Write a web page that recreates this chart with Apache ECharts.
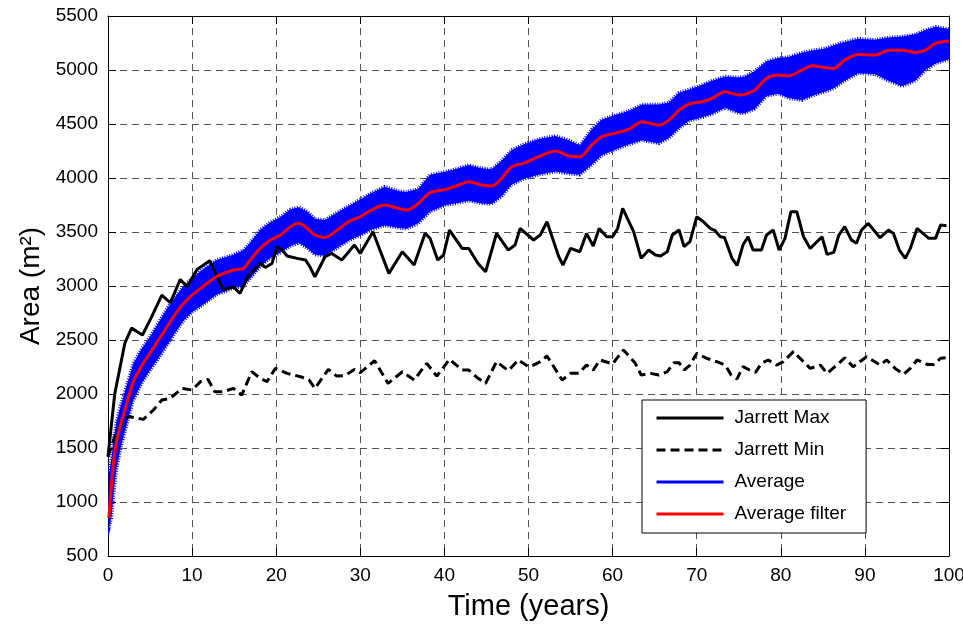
<!DOCTYPE html>
<html>
<head>
<meta charset="utf-8">
<script src="https://cdn.jsdelivr.net/npm/echarts@6.0.0/dist/echarts.min.js"></script>
<style>
  html, body { margin: 0; padding: 0; background: #fff; }
  #chart { width: 963px; height: 627px; }
</style>
</head>
<body>
<div id="chart"></div>
<script>
// Jarrett Max [time, area]
var jarrettMax = [
  [0, 1420], [0.8, 2000], [2.0, 2470], [2.8, 2610], [4.1, 2546], [5.2, 2716], [6.4, 2916], [7.4, 2845],
  [8.6, 3061], [9.4, 2993], [10.6, 3154], [12.1, 3234], [13.7, 2963], [14.9, 2993], [15.7, 2932], [16.6, 3086],
  [18.1, 3209], [18.7, 3172], [19.5, 3209], [20.1, 3364], [20.7, 3333], [21.3, 3277], [22.5, 3256], [23.5, 3240],
  [24.0, 3178], [24.6, 3086], [25.8, 3271], [26.6, 3302], [27.8, 3240], [29.3, 3379], [30.0, 3302], [31.5, 3503],
  [33.4, 3117], [35.0, 3317], [36.4, 3194], [37.7, 3487], [38.3, 3441], [39.2, 3240], [39.9, 3287], [40.6, 3518],
  [42.1, 3348], [42.9, 3348], [44.0, 3209], [44.9, 3132], [46.2, 3487], [47.6, 3333], [48.4, 3379], [49.0, 3533],
  [50.6, 3426], [51.4, 3472], [52.2, 3595], [53.6, 3271], [54.1, 3194], [55.0, 3348], [56.1, 3317], [56.9, 3487],
  [57.7, 3370], [58.4, 3533], [59.3, 3456], [60.0, 3456], [60.6, 3533], [61.2, 3719], [62.5, 3503], [63.4, 3256],
  [64.3, 3333], [65.1, 3287], [65.7, 3277], [66.5, 3317], [67.1, 3472], [67.9, 3518], [68.5, 3364], [69.2, 3410],
  [70.0, 3641], [70.8, 3595], [71.6, 3533], [72.2, 3512], [72.8, 3456], [73.3, 3450], [74.2, 3256], [74.8, 3190],
  [75.5, 3379], [76.1, 3456], [76.7, 3333], [77.7, 3333], [78.3, 3472], [79.1, 3518], [79.8, 3333], [80.5, 3441],
  [81.2, 3688], [81.9, 3688], [82.7, 3456], [83.5, 3348], [84.9, 3456], [85.5, 3293], [86.3, 3311], [86.9, 3472],
  [87.6, 3549], [88.4, 3426], [89.0, 3395], [89.6, 3518], [90.4, 3580], [91.8, 3447], [92.8, 3518], [93.4, 3487],
  [94.1, 3333], [94.8, 3256], [95.4, 3348], [96.2, 3533], [97.6, 3441], [98.4, 3441], [99.0, 3564], [99.7, 3558]
];

// Jarrett Min [time, area]
var jarrettMin = [
  [0, 1420], [1.0, 1650], [2.2, 1780], [2.6, 1790], [4.2, 1765], [5.4, 1852], [6.4, 1944], [7.4, 1960],
  [8.8, 2052], [10.0, 2037], [11.0, 2114], [11.9, 2135], [12.7, 2021], [13.7, 2021], [14.9, 2052], [15.9, 1990],
  [17.1, 2207], [18.1, 2145], [18.9, 2114], [19.9, 2237], [21.3, 2191], [22.9, 2160], [23.9, 2130], [24.6, 2052],
  [26.2, 2228], [27.2, 2166], [28.2, 2170], [29.3, 2228], [30.0, 2197], [31.7, 2308], [33.3, 2098], [35.0, 2206],
  [36.4, 2129], [37.9, 2284], [39.1, 2166], [40.6, 2321], [42.1, 2222], [42.9, 2222], [44.0, 2145], [44.9, 2098],
  [46.2, 2299], [47.6, 2216], [48.8, 2315], [50.0, 2253], [50.6, 2268], [51.4, 2299], [52.2, 2352], [54.0, 2129],
  [55.0, 2191], [56.0, 2191], [56.9, 2268], [57.7, 2222], [58.5, 2315], [60.0, 2278], [60.5, 2330], [61.3, 2407],
  [62.7, 2284], [63.4, 2176], [64.5, 2191], [65.5, 2176], [66.5, 2207], [67.3, 2290], [67.9, 2290], [68.5, 2222],
  [69.2, 2268], [70.0, 2376], [71.2, 2330], [72.4, 2299], [73.4, 2268], [74.1, 2176], [74.8, 2140], [75.5, 2253],
  [76.3, 2222], [77.0, 2200], [77.7, 2284], [78.5, 2315], [79.5, 2268], [80.3, 2300], [81.5, 2392], [82.7, 2299],
  [83.5, 2237], [84.7, 2268], [85.5, 2191], [86.9, 2284], [87.6, 2336], [88.6, 2253], [89.4, 2299], [90.2, 2345],
  [91.8, 2268], [92.6, 2315], [93.6, 2237], [94.6, 2182], [95.4, 2237], [96.2, 2315], [97.4, 2274], [98.2, 2274],
  [99.0, 2330], [99.6, 2336]
];

// time samples for the average band and the filtered average
var avgT = [
  0.1, 0.4, 0.7, 1.0, 1.5, 2.0, 3.0, 4.0, 5.0, 6.0, 7.0, 8.0, 9.0, 10.0, 11.0, 12.9, 14.9, 16.1, 16.9,
  18.1, 19.3, 20.5, 21.7, 22.7, 23.7, 24.6, 25.8, 27.0, 28.6, 30.0, 31.3, 32.9, 34.5, 35.5, 36.9, 38.3,
  40.2, 41.7, 42.9, 44.4, 45.6, 46.8, 48.0, 49.4, 51.2, 53.2, 54.8, 56.1, 57.5, 58.7, 60.2, 61.9, 63.5,
  65.5, 66.7, 67.9, 69.1, 70.6, 71.8, 73.4, 75.0, 75.7, 76.9, 78.3, 79.7, 80.9, 82.5, 83.7, 85.3, 86.3,
  87.6, 89.2, 91.2, 92.8, 94.4, 96.0, 97.2, 98.4, 100
];
// Average filter
var avgFilter = [
  850, 1150, 1400, 1550, 1720, 1850, 2110, 2260, 2380, 2500, 2620, 2740, 2840, 2916, 2978, 3086, 3148, 3163, 3240,
  3348, 3425, 3472, 3549, 3580, 3533, 3472, 3450, 3503, 3595, 3641, 3703, 3750, 3719, 3703, 3765, 3864,
  3895, 3935, 3966, 3935, 3925, 3996, 4104, 4135, 4197, 4249, 4203, 4197, 4305, 4382, 4413, 4450, 4521,
  4490, 4536, 4629, 4685, 4706, 4737, 4799, 4768, 4774, 4814, 4922, 4953, 4947, 4999, 5039, 5021, 5015,
  5092, 5144, 5138, 5184, 5184, 5163, 5184, 5246, 5268
];
// Average: upper and lower edge of the blue band
var avgHigh = [
  1250, 1400, 1600, 1740, 1890, 2020, 2280, 2420, 2530, 2660, 2790, 2900, 3000, 3070, 3140, 3240, 3290, 3330, 3400,
  3520, 3590, 3640, 3710, 3730, 3690, 3620, 3610, 3670, 3740, 3800, 3860, 3920, 3880, 3870, 3900, 4030,
  4060, 4090, 4120, 4090, 4080, 4160, 4260, 4310, 4360, 4390, 4350, 4300, 4450, 4540, 4580, 4620, 4680,
  4680, 4700, 4790, 4820, 4860, 4900, 4940, 4930, 4940, 4990, 5080, 5110, 5120, 5160, 5180, 5200, 5230,
  5260, 5290, 5280, 5300, 5310, 5330, 5370, 5400, 5380
];
var avgLow = [
  760, 850, 1100, 1300, 1500, 1650, 1940, 2100, 2220, 2330, 2450, 2570, 2680, 2760, 2810, 2920, 2980, 3000, 3070,
  3180, 3260, 3310, 3370, 3400, 3350, 3290, 3280, 3340, 3420, 3470, 3520, 3560, 3540, 3530, 3580, 3690,
  3750, 3770, 3790, 3765, 3760, 3830, 3940, 3990, 4030, 4060, 4040, 4030, 4120, 4210, 4260, 4310, 4350,
  4320, 4370, 4460, 4530, 4560, 4590, 4650, 4600, 4600, 4640, 4760, 4780, 4740, 4720, 4760, 4800, 4830,
  4900, 4970, 4960, 4900, 4850, 4900, 5000, 5060, 5100
];

var FONT = '"Liberation Sans", Arial, Helvetica, sans-serif';
var BLUE = '#0000ff';

var bandData = avgT.map(function (t, i) { return [t, avgLow[i], avgHigh[i]]; });
var filterData = avgT.map(function (t, i) { return [t, avgFilter[i]]; });

// the blue band: one polygon, upper edge forward then lower edge back
function renderBand(params, api) {
  if (params.dataIndex !== 0) return null;
  var pts = [];
  for (var i = 0; i < bandData.length; i++) pts.push(api.coord([bandData[i][0], bandData[i][2]]));
  for (var j = bandData.length - 1; j >= 0; j--) pts.push(api.coord([bandData[j][0], bandData[j][1]]));
  var cs = params.coordSys;
  return {
    type: 'polygon',
    shape: { points: pts },
    clipPath: { type: 'rect', shape: { x: cs.x, y: cs.y, width: cs.width, height: cs.height } },
    style: { fill: BLUE, stroke: BLUE, lineWidth: 3.5, lineDash: [1, 1.5] }
  };
}

var chart = echarts.init(document.getElementById('chart'));

var gridDash = { color: '#555', width: 1, type: [7, 5] };
var axisLine = { show: true, onZero: false, lineStyle: { color: '#000', width: 1 } };
var axisTick = { show: true, inside: true, length: 8, lineStyle: { color: '#000' } };

chart.setOption({
  animation: false,
  backgroundColor: '#fff',
  grid: { left: 108, right: 14, top: 16, bottom: 71, containLabel: false, outerBoundsMode: 'none' },
  xAxis: [
    {
      type: 'value', min: 0, max: 100, interval: 10,
      name: 'Time (years)', nameLocation: 'middle', nameGap: 36,
      nameTextStyle: { fontSize: 29, color: '#000', fontFamily: FONT },
      axisLine: axisLine, axisTick: axisTick,
      axisLabel: { fontSize: 19, color: '#000', fontFamily: FONT, margin: 10 },
      splitLine: { show: true, lineStyle: gridDash }
    },
    {
      type: 'value', min: 0, max: 100, interval: 10, position: 'top',
      axisLine: axisLine, axisTick: axisTick,
      axisLabel: { show: false }, splitLine: { show: false }
    }
  ],
  yAxis: [
    {
      type: 'value', min: 500, max: 5500, interval: 500,
      name: 'Area (m²)', nameLocation: 'middle', nameGap: 56,
      nameTextStyle: { fontSize: 28, color: '#000', fontFamily: FONT },
      axisLine: axisLine, axisTick: axisTick,
      axisLabel: {
        fontSize: 19, color: '#000', fontFamily: FONT, margin: 10,
        formatter: function (v) { return String(v); }
      },
      splitLine: { show: true, lineStyle: gridDash }
    },
    {
      type: 'value', min: 500, max: 5500, interval: 500, position: 'right',
      axisLine: axisLine, axisTick: axisTick,
      axisLabel: { show: false }, splitLine: { show: false }
    }
  ],
  legend: {
    orient: 'vertical',
    left: 642, top: 400,
    padding: [8, 20, 9, 13],
    itemGap: 12,
    itemWidth: 67, itemHeight: 12,
    backgroundColor: '#fff',
    borderColor: '#000', borderWidth: 1, borderRadius: 0,
    itemStyle: { opacity: 0 },
    lineStyle: { width: 3 },
    textStyle: { fontSize: 19, color: '#000', fontFamily: FONT, lineHeight: 20, padding: [0, 0, 0, 6] },
    data: ['Jarrett Max', 'Jarrett Min', 'Average', 'Average filter']
  },
  series: [
    {
      name: 'Jarrett Max', type: 'line', data: jarrettMax, symbol: 'none',
      lineStyle: { color: '#000', width: 3 }, itemStyle: { color: '#000' }
    },
    {
      name: 'Jarrett Min', type: 'line', data: jarrettMin, symbol: 'none',
      lineStyle: { color: '#000', width: 3, type: [9, 5] }, itemStyle: { color: '#000' }
    },
    {
      name: 'avgBand', type: 'custom', data: bandData, renderItem: renderBand,
      encode: { x: 0, y: [1, 2] }, silent: true
    },
    {
      // legend entry for the band
      name: 'Average', type: 'line', data: [], symbol: 'none',
      lineStyle: { color: BLUE, width: 3 }, itemStyle: { color: BLUE }
    },
    {
      name: 'Average filter', type: 'line', data: filterData, symbol: 'none', smooth: 0.3,
      lineStyle: { color: '#ff0000', width: 3 }, itemStyle: { color: '#ff0000' }
    }
  ]
});
</script>
</body>
</html>
